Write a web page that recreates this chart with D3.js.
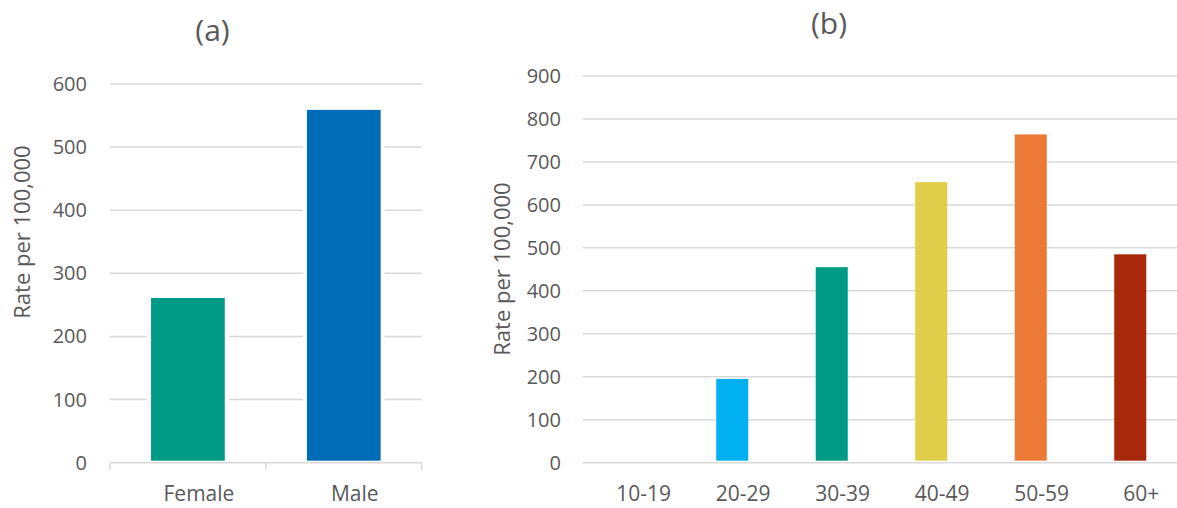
<!DOCTYPE html>
<html><head><meta charset="utf-8">
<script src="https://cdn.jsdelivr.net/npm/d3@7"></script>
<style>body{margin:0;background:#fff}svg{display:block}text{font-family:"Open Sans",sans-serif;fill:#595959}</style>
</head><body>
<svg id="c" width="1177" height="508"></svg>
<script>
const sexCategories = ["Female", "Male"];
const sexValues = [261, 559];
const sexColors = ["#009B86", "#006BB6"];
const sexTicks = [0, 100, 200, 300, 400, 500, 600];

const ageCategories = ["10-19", "20-29", "30-39", "40-49", "50-59", "60+"];
const ageValues = [0, 195, 455, 653, 764, 485];
const ageColors = ["#00B0F0", "#00B0F0", "#009B86", "#DFCE4A", "#ED7936", "#A8280B"];
const ageTicks = [0, 100, 200, 300, 400, 500, 600, 700, 800, 900];

const titles = ["(a)", "(b)"];
const yLabel = "Rate per 100,000";

const svg = d3.select("#c");
const grid = "#d9d9d9";

function panel(o) {
  const g = svg.append("g");
  const x = d3.scaleBand().domain(o.cats).range([o.x0, o.x1]).paddingInner(o.pad).paddingOuter(o.pad / 2);
  const y = d3.scaleLinear().domain([0, o.max]).range([o.y0, o.y1]);
  g.selectAll(".grid").data(o.ticks).enter().append("line")
    .attr("x1", o.x0).attr("x2", o.gx1).attr("y1", d => y(d)).attr("y2", d => y(d))
    .attr("stroke", grid).attr("stroke-width", 1.5);
  g.selectAll(".yt").data(o.ticks).enter().append("text")
    .attr("x", o.labX).attr("y", d => y(d)).attr("dy", "0.35em")
    .attr("text-anchor", "end").attr("font-size", 20).text(d => d);
  if (o.tickMarks) {
    const bounds = [o.x0].concat(o.cats.map(c => x(c) + x.bandwidth() / 2 + x.step() / 2));
    g.selectAll(".xt").data(bounds).enter().append("line")
      .attr("x1", d => d).attr("x2", d => d).attr("y1", y(0)).attr("y2", y(0) + 7)
      .attr("stroke", grid).attr("stroke-width", 1.5);
  }
  if (o.halo) {
    g.selectAll(".halo").data(o.vals).enter().append("rect")
      .attr("x", (d, i) => x(o.cats[i]) - 4).attr("width", x.bandwidth() + 8)
      .attr("y", d => y(d)).attr("height", d => Math.max(0, y(0) - 2 - y(d)))
      .attr("fill", "#fff");
  }
  g.selectAll(".bar").data(o.vals).enter().append("rect")
    .attr("x", (d, i) => x(o.cats[i])).attr("width", x.bandwidth())
    .attr("y", d => y(d)).attr("height", d => Math.max(0, y(0) - 2 - y(d)))
    .attr("fill", (d, i) => o.colors[i]);
  g.selectAll(".xl").data(o.cats).enter().append("text")
    .attr("x", d => x(d) + x.bandwidth() / 2 + o.labDx).attr("y", 501)
    .attr("text-anchor", "middle").attr("font-size", 21).text(d => d);
  g.append("text").attr("transform", `translate(${o.ylx},${o.yly}) rotate(-90)`)
    .attr("text-anchor", "middle").attr("dy", "0.35em").attr("font-size", 22).text(yLabel);
  g.append("text").attr("x", o.tx).attr("y", o.ty).attr("text-anchor", "middle")
    .attr("font-size", 30).text(o.title);
}

panel({cats: sexCategories, vals: sexValues, colors: sexColors, ticks: sexTicks, max: 600,
  x0: 110, x1: 421.7, gx1: 421.7, y0: 462.7, y1: 84, pad: 0.527, labX: 87, labDx: 11,
  tickMarks: true, halo: true, ylx: 22, yly: 232, tx: 212.5, ty: 41, title: titles[0]});

panel({cats: ageCategories, vals: ageValues, colors: ageColors, ticks: ageTicks, max: 900,
  x0: 583, x1: 1180, gx1: 1180, y0: 462.7, y1: 76, pad: 0.678, labX: 561, labDx: 11,
  tickMarks: false, halo: false, ylx: 502, yly: 269, tx: 829, ty: 34, title: titles[1]});
</script>
</body></html>
